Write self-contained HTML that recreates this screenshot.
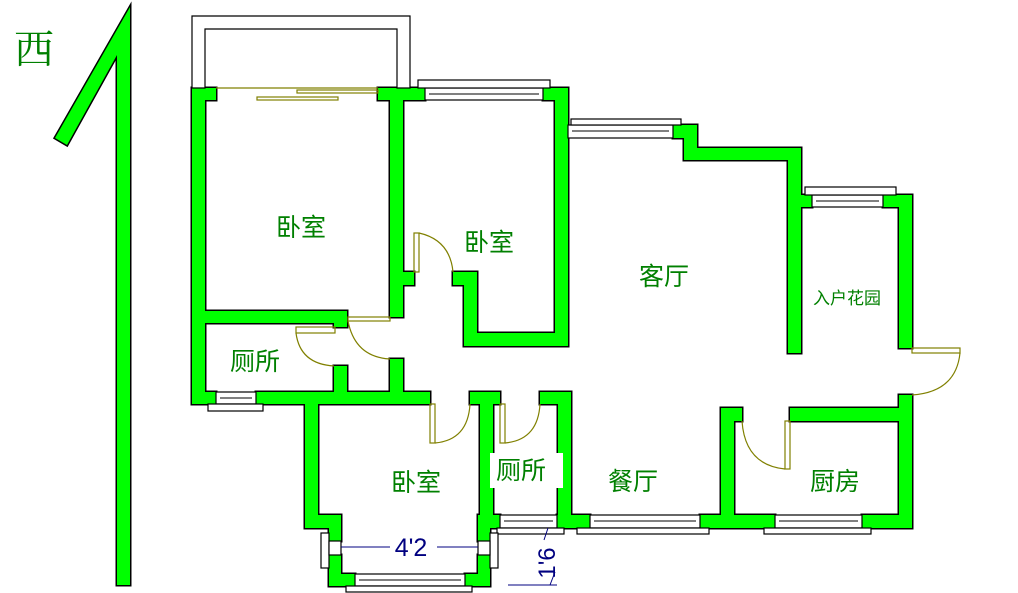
<!DOCTYPE html>
<html><head><meta charset="utf-8"><style>
html,body{margin:0;padding:0;background:#fff;}
svg{display:block;}
.t{font-family:"Liberation Sans","Noto Sans CJK SC",sans-serif;fill:#008000;}
</style></head><body>
<svg width="1018" height="593" viewBox="0 0 1018 593" xmlns="http://www.w3.org/2000/svg">
<defs>
<g id="w">
<polygon points="130,7 130,585 117,585 117,55 67,145 55,138"/>
<rect x="192" y="88" width="13" height="316"/>
<rect x="192" y="88" width="24" height="12"/>
<rect x="378" y="88" width="47" height="12"/>
<rect x="390" y="88" width="13" height="229"/>
<rect x="192" y="311" width="155" height="12"/>
<rect x="334" y="311" width="13" height="16"/>
<rect x="334" y="366" width="13" height="38"/>
<rect x="390" y="359" width="13" height="45"/>
<rect x="192" y="392" width="24" height="12"/>
<rect x="256" y="392" width="174" height="12"/>
<rect x="403" y="272" width="11" height="13"/>
<rect x="543" y="88" width="25" height="12"/>
<rect x="555" y="88" width="13" height="258"/>
<rect x="453" y="272" width="24" height="13"/>
<rect x="464" y="272" width="13" height="74"/>
<rect x="464" y="333" width="104" height="13"/>
<rect x="470" y="392" width="30" height="12"/>
<rect x="540" y="392" width="31" height="12"/>
<rect x="305" y="392" width="13" height="136"/>
<rect x="305" y="515" width="36" height="13"/>
<rect x="329" y="515" width="12" height="26"/>
<rect x="329" y="555" width="12" height="31"/>
<rect x="329" y="574" width="26" height="12"/>
<rect x="480" y="392" width="13" height="136"/>
<rect x="480" y="515" width="20" height="13"/>
<rect x="478" y="515" width="12" height="26"/>
<rect x="478" y="555" width="12" height="31"/>
<rect x="465" y="574" width="25" height="12"/>
<rect x="558" y="392" width="13" height="136"/>
<rect x="557" y="515" width="33" height="13"/>
<rect x="673" y="125" width="24" height="13"/>
<rect x="684" y="125" width="13" height="35"/>
<rect x="684" y="148" width="117" height="12"/>
<rect x="788" y="148" width="13" height="205"/>
<rect x="788" y="195" width="24" height="12"/>
<rect x="883" y="195" width="29" height="12"/>
<rect x="899" y="195" width="13" height="153"/>
<rect x="899" y="395" width="13" height="133"/>
<rect x="790" y="408" width="122" height="13"/>
<rect x="721" y="408" width="21" height="13"/>
<rect x="721" y="408" width="13" height="120"/>
<rect x="700" y="515" width="75" height="13"/>
<rect x="862" y="515" width="50" height="13"/>
</g>
</defs>
<use href="#w" fill="#000" stroke="#000" stroke-width="3"/>
<use href="#w" fill="#00ff00"/>
<g fill="#fff" stroke="#000" stroke-width="1.2">
<path d="M192,88 V16 H410 V88 H397 V29 H205 V88 Z"/>
<rect x="425" y="88" width="118" height="12"/><rect x="418" y="80" width="132" height="8"/>
<rect x="568" y="125" width="105" height="13"/><rect x="571" y="119" width="110" height="6"/>
<rect x="812" y="195" width="71" height="12"/><rect x="805" y="187" width="91" height="8"/>
<rect x="216" y="392" width="40" height="12"/><rect x="208" y="404" width="55" height="7"/>
<rect x="500" y="515" width="57" height="13"/><rect x="497" y="528" width="67" height="6"/>
<rect x="590" y="515" width="110" height="13"/><rect x="577" y="528" width="132" height="6"/>
<rect x="775" y="515" width="87" height="13"/><rect x="764" y="528" width="107" height="6"/>
<rect x="355" y="574" width="110" height="12"/><rect x="346" y="586" width="126" height="6"/>
<rect x="321" y="533" width="8" height="35"/><rect x="490" y="533" width="8" height="35"/>
<rect x="329" y="541" width="12" height="14"/><rect x="478" y="541" width="12" height="14"/>
</g>
<g stroke="#000" stroke-width="1">
<line x1="429" y1="94" x2="539" y2="94"/><line x1="572" y1="131" x2="669" y2="131"/>
<line x1="816" y1="201" x2="879" y2="201"/><line x1="220" y1="398" x2="252" y2="398"/>
<line x1="504" y1="521" x2="553" y2="521"/><line x1="594" y1="521" x2="696" y2="521"/>
<line x1="779" y1="521" x2="858" y2="521"/><line x1="359" y1="580" x2="461" y2="580"/>
</g>
<g fill="none" stroke="#808000" stroke-width="1.2">
<line x1="216" y1="88" x2="378" y2="88"/>
<rect x="297" y="90" width="81" height="3"/><rect x="257" y="97" width="81" height="3"/>
<rect x="414" y="233" width="5" height="39"/><path d="M419,233 Q450,240 453,272"/>
<rect x="296" y="327" width="39" height="6"/><path d="M296,333 Q300,364 334,366"/>
<rect x="348" y="317" width="42" height="4"/><path d="M348,321 Q355,357 390,359"/>
<rect x="430" y="404" width="5" height="39"/><path d="M435,443 Q468,440 470,404"/>
<rect x="500" y="404" width="5" height="39"/><path d="M505,443 Q538,440 540,404"/>
<rect x="785" y="421" width="5" height="48"/><path d="M785,469 Q745,465 742,421"/>
<rect x="912" y="348" width="48" height="5"/><path d="M912,395 Q956,392 960,353"/>
</g>
<rect x="490" y="453" width="73" height="35" fill="#fff"/>
<g stroke="#000080" stroke-width="1">
<line x1="341" y1="547" x2="390" y2="547"/><line x1="437" y1="547" x2="478" y2="547"/>
<line x1="508" y1="585" x2="557" y2="585"/>
<line x1="548" y1="528" x2="544" y2="540"/><line x1="555" y1="572" x2="550" y2="585"/>
</g>
<text x="411" y="556" font-size="25" fill="#000080" font-family="Liberation Sans,sans-serif" text-anchor="middle">4'2</text>
<text transform="translate(555,563) rotate(-90)" font-size="24" fill="#000080" font-family="Liberation Sans,sans-serif" text-anchor="middle">1'6</text>
<text x="14" y="63" class="t" font-size="40" style="font-family:'Liberation Serif','Noto Serif CJK SC',serif">西</text>
<text x="301" y="236" class="t" font-size="25" text-anchor="middle">卧室</text>
<text x="489" y="251" class="t" font-size="25" text-anchor="middle">卧室</text>
<text x="664" y="285" class="t" font-size="25" text-anchor="middle">客厅</text>
<text x="847" y="304" class="t" font-size="17" text-anchor="middle">入户花园</text>
<text x="255" y="370" class="t" font-size="25" text-anchor="middle">厕所</text>
<text x="416" y="491" class="t" font-size="25" text-anchor="middle">卧室</text>
<text x="521" y="479" class="t" font-size="25" text-anchor="middle">厕所</text>
<text x="633" y="490" class="t" font-size="25" text-anchor="middle">餐厅</text>
<text x="835" y="490" class="t" font-size="25" text-anchor="middle">厨房</text>
</svg>
</body></html>
